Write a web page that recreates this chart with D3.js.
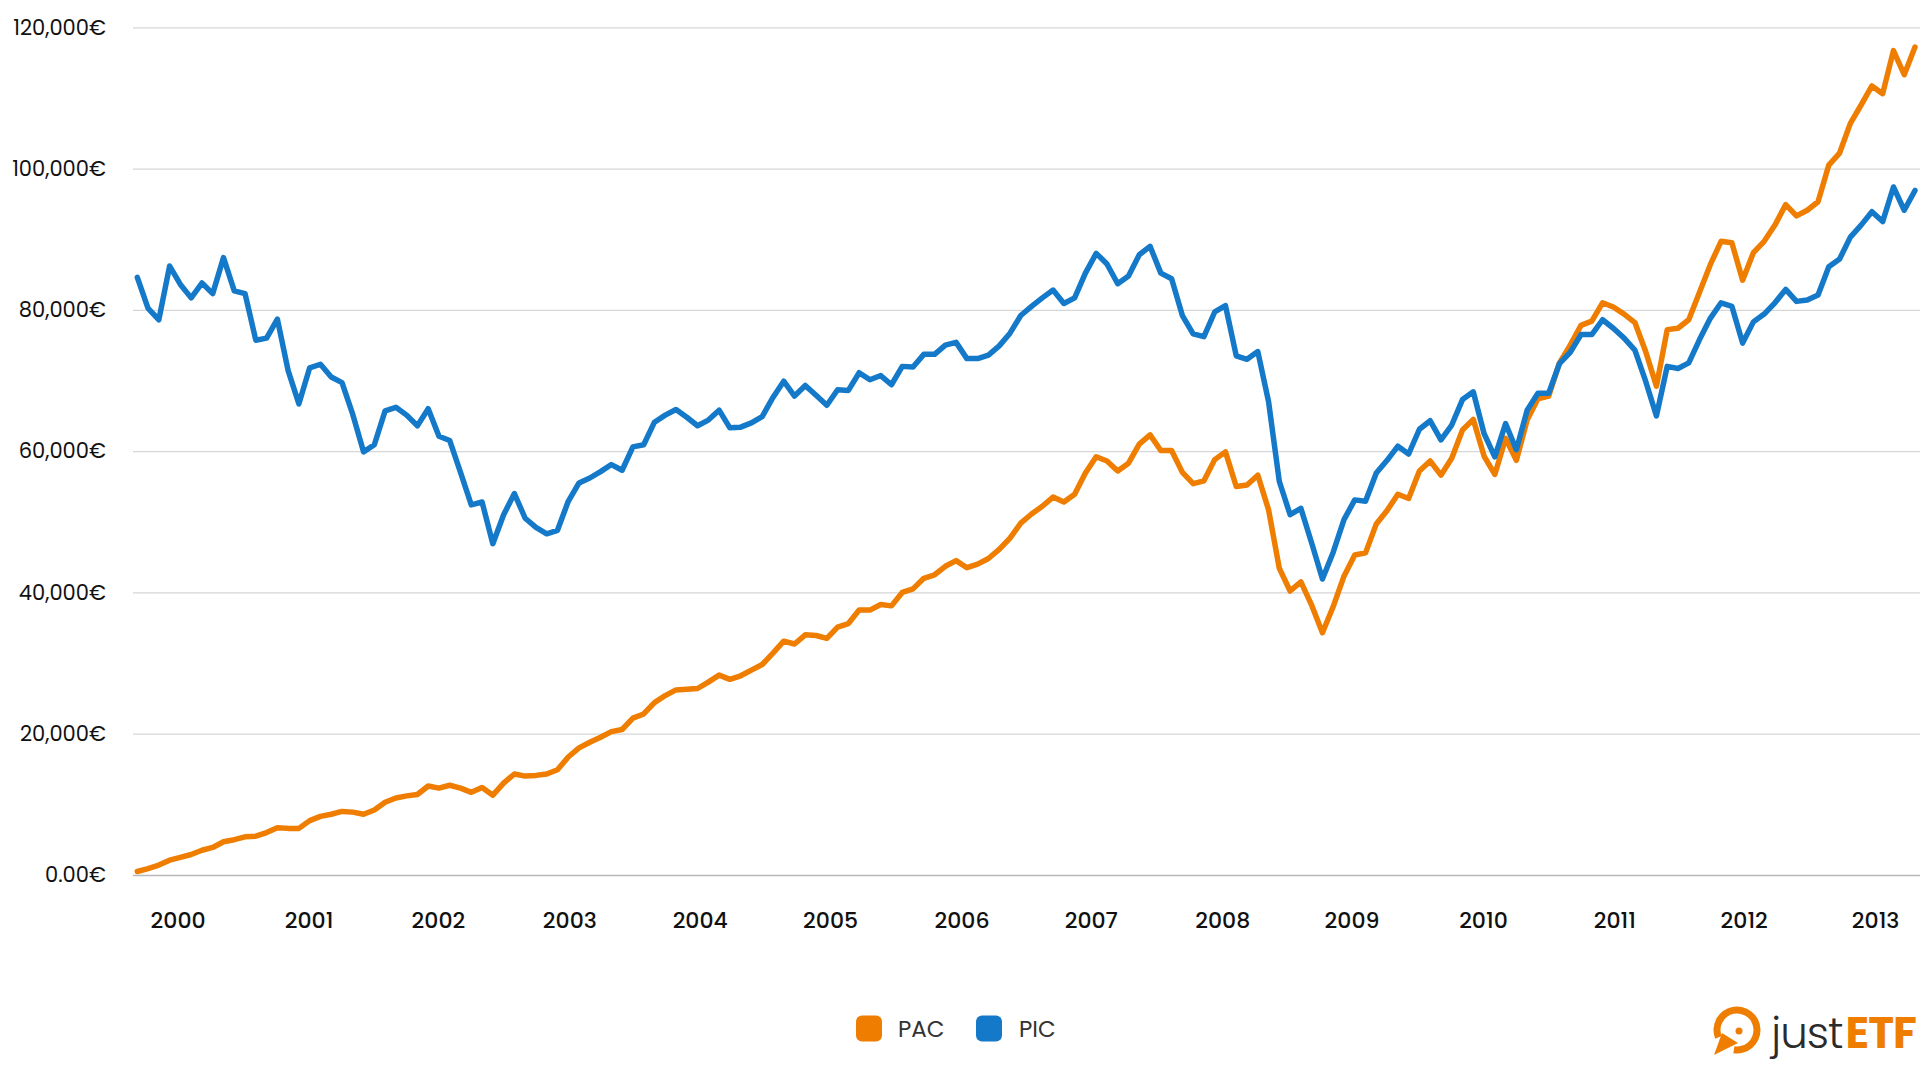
<!DOCTYPE html>
<html><head><meta charset="utf-8">
<script src="https://cdn.jsdelivr.net/npm/d3@7"></script>
<style>html,body{margin:0;padding:0;background:#fff;} svg{display:block;font-family:Poppins, Inter, sans-serif;}</style>
</head><body><svg id="c" width="1920" height="1080"></svg>
<script>
const seriesNames = ["PAC", "PIC"];
const pac = [500,900,1400,2100,2500,2900,3500,3900,4700,5000,5400,5500,6000,6700,6600,6600,7700,8300,8600,9000,
8900,8600,9200,10300,10900,11200,11400,12600,12300,12700,12300,11700,12400,11300,13000,14300,14000,14100,14300,14900,
16700,18000,18800,19500,20300,20600,22200,22800,24400,25400,26200,26300,26400,27300,28300,27700,28200,29000,29800,31400,
33100,32700,34000,33900,33500,35100,35600,37500,37500,38300,38100,40000,40500,42000,42500,43700,44500,43500,44000,44800,
46100,47700,49800,51100,52200,53500,52800,53900,56900,59200,58600,57200,58300,61000,62300,60100,60100,57000,55400,55800,
58800,59900,55000,55200,56600,51700,43400,40200,41500,38200,34300,38000,42300,45300,45600,49700,51600,53900,53300,57200,
58600,56600,59000,63000,64500,59300,56700,61800,58700,64400,67400,67800,72500,75000,77800,78400,81000,80400,79400,78200,
74100,69200,77200,77400,78600,82500,86400,89700,89500,84200,88100,89700,92000,94900,93300,94100,95300,100500,102200,106400,
109000,111700,110600,116700,113300,117200];
const pic = [84600,80200,78600,86200,83600,81700,83800,82300,87400,82700,82300,75700,76000,78700,71400,66700,71800,72300,70500,69700,
65200,59900,60900,65700,66200,65100,63600,66000,62100,61500,57000,52400,52800,46900,51000,54000,50500,49200,48300,48800,
52900,55500,56200,57100,58100,57300,60600,60900,64100,65100,65900,64800,63600,64400,65800,63300,63400,64000,64900,67600,
69900,67800,69300,67900,66500,68700,68600,71100,70100,70700,69400,72000,71900,73700,73700,75000,75400,73100,73100,73600,
74900,76700,79200,80500,81700,82800,80900,81700,85200,88000,86500,83700,84800,87800,89000,85200,84400,79200,76600,76200,
79700,80600,73500,73000,74100,67000,55700,51000,51900,47000,41900,45700,50300,53100,52900,56900,58700,60700,59600,63100,
64300,61600,63700,67300,68400,62500,59200,63900,60200,65800,68200,68200,72400,74000,76500,76500,78600,77400,76000,74300,
69900,65000,72000,71700,72500,75800,78800,81000,80500,75300,78300,79400,81000,82900,81200,81400,82100,86100,87200,90300,
92000,93900,92500,97400,94100,96900];
const yTicks = [0, 20000, 40000, 60000, 80000, 100000, 120000];
const yTickLabels = ["0.00€", "20,000€", "40,000€", "60,000€", "80,000€", "100,000€", "120,000€"];
const yearLabels = ["2000","2001","2002","2003","2004","2005","2006","2007","2008","2009","2010","2011","2012","2013"];
const yearTickIndex = [3.74,15.9,27.9,40.1,52.2,64.3,76.5,88.5,100.7,112.7,124.9,137.1,149.1,161.3];
const colors = {PAC: "#ee7d00", PIC: "#1479c9"};

const svg = d3.select("#c");
const plotLeft = 133, plotRight = 1920, plotTop = 27.3, plotBottom = 875;
const x = d3.scaleLinear().domain([0, pac.length - 1]).range([137.3, 1915]);
const y = d3.scaleLinear().domain([0, 120000]).range([plotBottom, plotTop]);

// gridlines
const grid = svg.append("g").attr("transform", `translate(${plotLeft},0)`)
  .call(d3.axisLeft(y).tickValues(yTicks).tickSize(-(plotRight - plotLeft)).tickFormat(""));
grid.select(".domain").remove();
grid.selectAll(".tick line").attr("stroke", (d) => d === 0 ? "#b8b8b8" : "#d6d6d6").attr("stroke-width", (d) => d === 0 ? 1.5 : 1.2);

// y labels
const ya = svg.append("g").attr("transform", `translate(${plotLeft},0)`)
  .call(d3.axisLeft(y).tickValues(yTicks).tickSize(0).tickPadding(27).tickFormat((d, i) => yTickLabels[i]));
ya.select(".domain").remove();
ya.selectAll("text").attr("font-size", 21).attr("fill", "#111").attr("font-family", "Poppins, Inter, sans-serif");

// x labels
const xa = svg.append("g").attr("transform", `translate(0,${plotBottom})`)
  .call(d3.axisBottom(x).tickValues(yearTickIndex).tickSize(0).tickPadding(37).tickFormat((d, i) => yearLabels[i]));
xa.select(".domain").remove();
xa.selectAll("text").attr("font-size", 22).attr("font-weight", 500).attr("fill", "#111").attr("font-family", "Poppins, Inter, sans-serif");

// lines
const line = d3.line().x((d, i) => x(i)).y(d => y(d));
[["PAC", pac], ["PIC", pic]].forEach(([name, vals]) => {
  svg.append("path").datum(vals).attr("d", line)
    .attr("fill", "none").attr("stroke", colors[name]).attr("stroke-width", 5.5)
    .attr("stroke-linejoin", "round").attr("stroke-linecap", "round");
});

// legend
const legend = svg.append("g");
const legendItems = [{name: "PAC", sx: 856, tx: 898}, {name: "PIC", sx: 976, tx: 1019}];
legendItems.forEach(it => {
  legend.append("rect").attr("x", it.sx).attr("y", 1015.5).attr("width", 26).attr("height", 26).attr("rx", 6)
    .attr("fill", colors[it.name]);
  legend.append("text").attr("x", it.tx).attr("y", 1028.6).attr("dy", "0.36em")
    .attr("font-size", 23).attr("fill", "#333").text(it.name);
});

// logo
const logo = svg.append("g");
const cx = 1737, cy = 1030, r = 20;
const arc = d3.arc().innerRadius(r - 3.5).outerRadius(r + 3.5).startAngle(-Math.PI * 0.62).endAngle(Math.PI * 1.05);
logo.append("path").attr("d", arc()).attr("transform", `translate(${cx},${cy})`).attr("fill", colors.PAC);
logo.append("path").attr("d", `M${cx-23},${cy+25} L${cx-15},${cy+3} L${cx+1},${cy+13} Z`).attr("fill", colors.PAC);
logo.append("circle").attr("cx", cx + 2).attr("cy", cy + 1).attr("r", 3.5).attr("fill", colors.PAC);
const t1 = logo.append("text").attr("x", 1771).attr("y", 1048).attr("font-size", 44).attr("font-weight", 300)
  .attr("fill", "#2b2b2b").attr("letter-spacing", -1).text("just");
const t2 = logo.append("text").attr("y", 1048).attr("font-size", 44).attr("font-weight", 700)
  .attr("fill", colors.PAC).attr("letter-spacing", -1).text("ETF");
let w1 = t1.node().getComputedTextLength(), w2 = t2.node().getComputedTextLength();
const avail = 1916 - 1771 - 3;
const k = Math.min(1, avail / (w1 + w2));
const fs = 44 * k;
t1.attr("font-size", fs); t2.attr("font-size", fs);
w1 = t1.node().getComputedTextLength();
t2.attr("x", 1771 + w1 + 3);
</script></body></html>
